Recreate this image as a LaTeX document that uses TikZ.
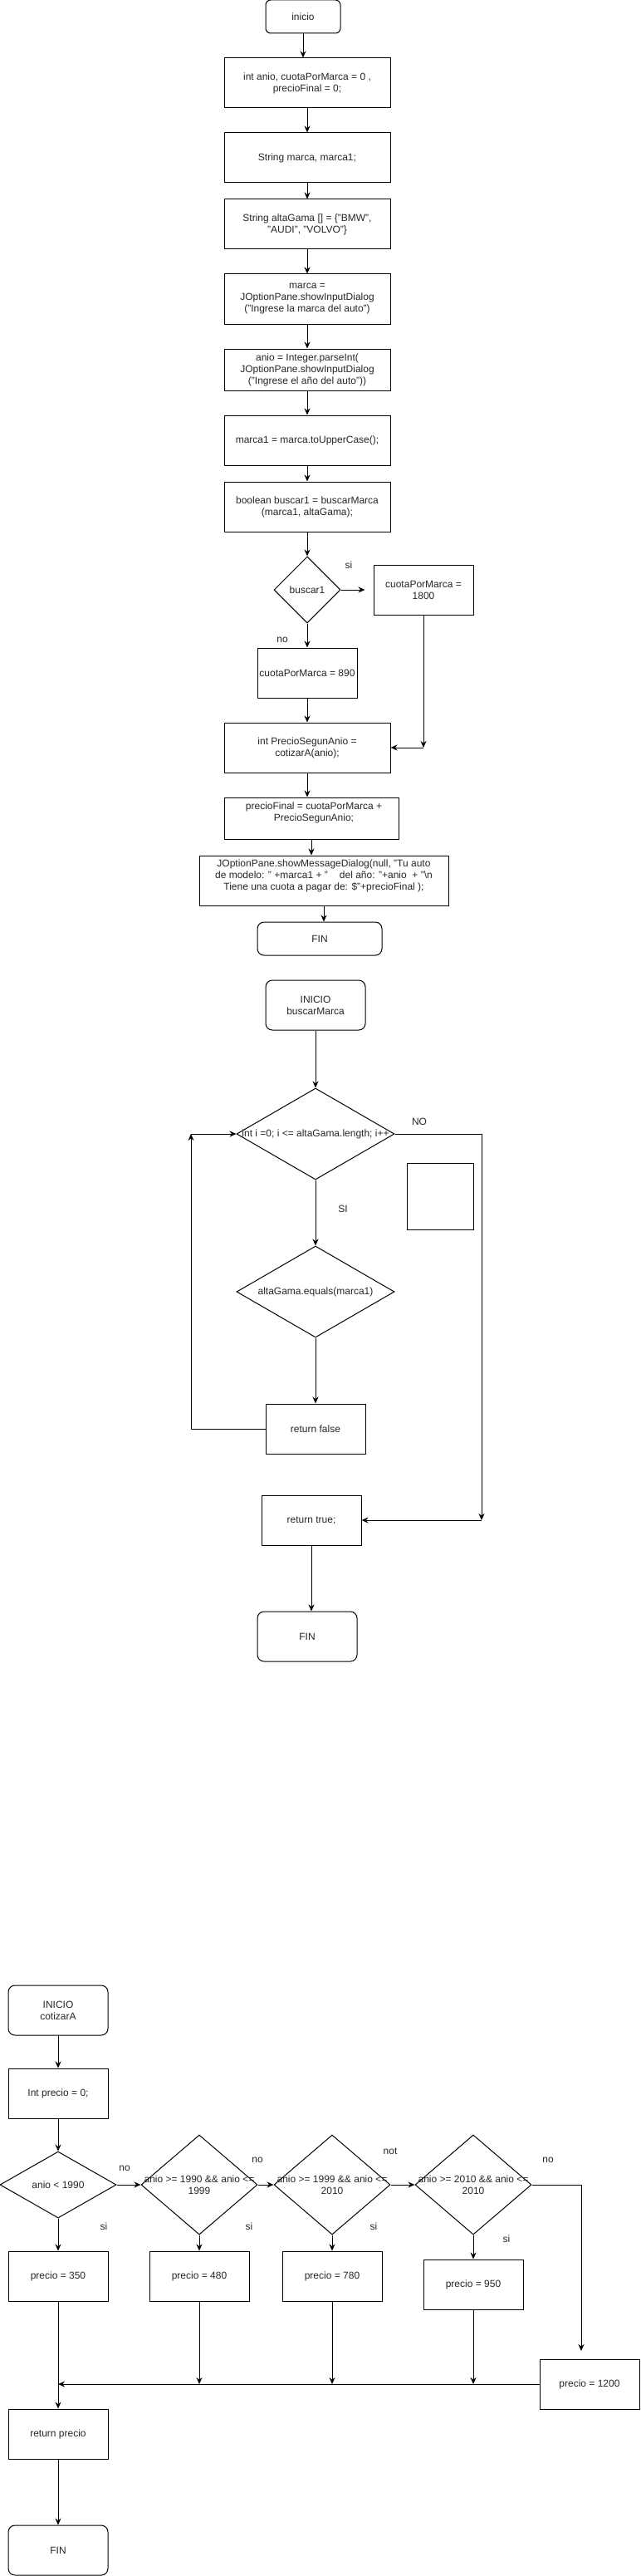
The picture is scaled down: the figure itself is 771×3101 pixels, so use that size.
\documentclass[tikz,border=0pt]{standalone}
\usepackage{fontspec}
\setmainfont{Liberation Sans}
\usetikzlibrary{positioning}
\usetikzlibrary{calc}
\usetikzlibrary{shapes.geometric}
\usetikzlibrary{arrows.meta}

\begin{document}
\begin{tikzpicture}[x=1pt, y=-1pt, line width=1pt, >={Stealth[length=8pt, width=7pt]},
  font=\fontsize{12}{14}\selectfont, text=black!85,
  caja/.style={draw, text=black!85, align=center, minimum width=120pt, minimum height=60pt, inner sep=2pt},
  inicio/.style={caja, rounded corners=8pt},
  rombo/.style={draw, diamond, inner sep=0pt},
  texto/.style={align=center, inner sep=0pt}]
\useasboundingbox (0,0) rectangle (771,3101);

\node[inicio, minimum width=90pt, minimum height=40pt, rounded corners=6pt] (ini) at (365,20) {inicio};
\node[caja, minimum width=200pt] (decl) at (370,100) {int anio, cuotaPorMarca = 0 ,\\precioFinal = 0;};
\node[caja, minimum width=200pt] (str) at (370,190) {String marca, marca1;};
\node[caja, minimum width=200pt] (gama) at (370,270) {String altaGama [] = \{"BMW",\\"AUDI", "VOLVO"\}};
\node[caja, minimum width=200pt] (leer) at (370,360) {marca =\\JOptionPane.showInputDialog\\("Ingrese la marca del auto")};
\node[caja, minimum width=200pt, minimum height=50pt] (anio) at (370,445) {anio = Integer.parseInt(\\JOptionPane.showInputDialog\\("Ingrese el año del auto"))};
\node[caja, minimum width=200pt] (mayus) at (370,530) {marca1 = marca.toUpperCase();};
\node[caja, minimum width=200pt] (buscar) at (370,610) {boolean buscar1 = buscarMarca\\(marca1, altaGama);};
\node[rombo, minimum width=80pt, minimum height=80pt] (dbus) at (370,710) {};
\node[texto] (dbust) at (dbus) {buscar1};
\node[caja] (c1800) at (510,710) {cuotaPorMarca =\\1800};
\node[caja] (c890) at (370,810) {cuotaPorMarca = 890};
\node[caja, minimum width=200pt] (psa) at (370,900) {int PrecioSegunAnio =\\cotizarA(anio);};
\node[caja, minimum width=210pt, minimum height=50pt] (pfin) at (375,985) {};
\node[texto] (pfint) at ($(pfin)+(3,-7)$) {precioFinal = cuotaPorMarca +\\PrecioSegunAnio;};
\node[caja, minimum width=300pt] (msg) at (390,1060) {};
\node[texto] (msgt) at ($(msg)+(0,-6)$) {JOptionPane.showMessageDialog(null, "Tu auto\\de modelo: " +marca1 + "\hspace{14pt}del año: "+anio\ \ + "\textbackslash n\\Tiene una cuota a pagar de: \$"+precioFinal );};
\node[inicio, minimum width=150pt, minimum height=40pt] (fin) at (385,1130) {FIN};
\node (lsi0) at (420,680) {si};
\node (lno0) at (340,770) {no};
\coordinate (j1) at (510,900);

\draw[->] (ini.south) -- (ini.south |- decl.north);
\draw[->] (decl) -- (str);
\draw[->] (str) -- (gama);
\draw[->] (gama) -- (leer);
\draw[->] (leer) -- (anio);
\draw[->] (anio) -- (mayus);
\draw[->] (mayus) -- (buscar);
\draw[->] (buscar) -- (dbus);
\draw[->, shorten >=10pt] (dbus) -- (c1800);
\draw[->] (dbus) -- (c890);
\draw[->] (c890) -- (psa);
\draw[->] (c1800) -- (j1);
\draw[->] (j1) -- (psa.east);
\draw[->] (psa.south) -- (psa.south |- pfin.north);
\draw[->] (pfin.south) -- (pfin.south |- msg.north);
\draw[->] (msg.south) -- (msg.south |- fin.north);

\node[inicio] (ini2) at (380,1210) {INICIO\\buscarMarca};
\node[rombo, minimum width=190pt, minimum height=110pt] (bucle) at (380,1365) {};
\node[texto] (buclet) at (bucle) {int i =0; i <= altaGama.length; i++};
\node[rombo, minimum width=190pt, minimum height=110pt] (igual) at (380,1555) {};
\node[texto] (igualt) at (igual) {altaGama.equals(marca1)};
\node[caja] (rfalse) at (380,1720) {return false};
\node[caja] (rtrue) at (375,1830) {return true;};
\node[inicio] (fin2) at (370,1970) {FIN};
\node[caja, minimum width=80pt, minimum height=80pt] (vacio) at (530,1440) {};
\node (lno) at (505,1350) {NO};
\node (lsi) at (413,1455) {SI};
\coordinate (vuelta) at (230,1365);
\coordinate (salida) at (580,1830);

\draw[->] (ini2) -- (bucle);
\draw[->] (bucle) -- (igual);
\draw[->] (igual) -- (rfalse);
\draw[->] (rfalse.west) -| (vuelta);
\draw[->] (vuelta) -- (bucle.west);
\draw[->] (bucle.east) -| (salida);
\draw[->] (salida) -- (rtrue.east);
\draw[->] (rtrue.south) -- (rtrue.south |- fin2.north);

\node[inicio] (ini3) at (70,2420) {INICIO\\cotizarA};
\node[caja] (prec0) at (70,2520) {Int precio = 0;};
\node[rombo, minimum width=140pt, minimum height=80pt] (d1) at (70,2630) {};
\node[texto] (d1t) at (d1) {anio < 1990};
\node[rombo, minimum width=140pt, minimum height=120pt] (d2) at (240,2630) {};
\node[texto] (d2t) at (d2) {anio >= 1990 \&\& anio <=\\1999};
\node[rombo, minimum width=140pt, minimum height=120pt] (d3) at (400,2630) {};
\node[texto] (d3t) at (d3) {anio >= 1999 \&\& anio <=\\2010};
\node[rombo, minimum width=140pt, minimum height=120pt] (d4) at (570,2630) {};
\node[texto] (d4t) at (d4) {anio >= 2010 \&\& anio <=\\2010};
\node[caja] (p350) at (70,2740) {precio = 350};
\node[caja] (p480) at (240,2740) {precio = 480};
\node[caja] (p780) at (400,2740) {precio = 780};
\node[caja] (p950) at (570,2750) {precio = 950};
\node[caja] (p1200) at (710,2870) {precio = 1200};
\node[caja] (rprecio) at (70,2930) {return precio};
\node[inicio] (fin3) at (70,3070) {FIN};
\node (lno1) at (150,2610) {no};
\node (lsi1) at (125,2680) {si};
\node (lno2) at (310,2600) {no};
\node (lsi2) at (300,2680) {si};
\node (lno3) at (470,2590) {not};
\node (lsi3) at (450,2680) {si};
\node (lno4) at (660,2600) {no};
\node (lsi4) at (610,2695) {si};
\coordinate (baja) at (700,2830);
\coordinate (junta) at (70,2870);

\draw[->] (ini3) -- (prec0);
\draw[->] (prec0) -- (d1);
\draw[->] (d1) -- (d2);
\draw[->] (d2) -- (d3);
\draw[->] (d3) -- (d4);
\draw[->] (d1) -- (p350);
\draw[->] (d2) -- (p480);
\draw[->] (d3) -- (p780);
\draw[->] (d4) -- (p950);
\draw[->] (d4.east) -| (baja);
\draw[->] (p1200.west) -- (junta);
\draw[->] (p480.south) -- (p480.south |- junta);
\draw[->] (p780.south) -- (p780.south |- junta);
\draw[->] (p950.south) -- (p950.south |- junta);
\draw[->] (p350) -- (rprecio);
\draw[->] (rprecio) -- (fin3);
\end{tikzpicture}
\end{document}
